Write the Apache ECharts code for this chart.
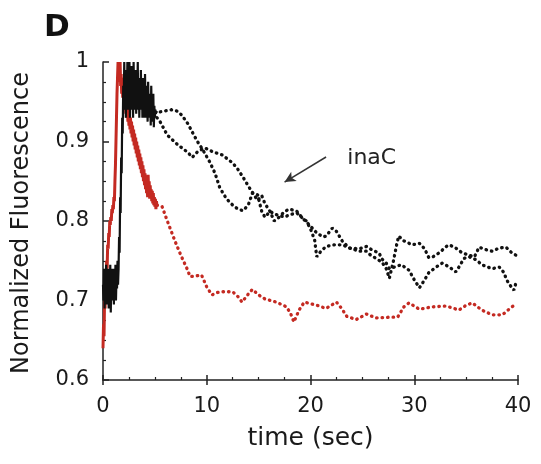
<!DOCTYPE html>
<html>
<head>
<meta charset="utf-8">
<script src="https://cdn.jsdelivr.net/npm/echarts@6/dist/echarts.min.js"></script>
<style>html,body{margin:0;padding:0;background:#fff}#c{width:541px;height:464px}</style>
</head>
<body>
<div id="c"></div>
<script>
// ---- data ----
var xTicks = [0, 10, 20, 30, 40];
var yTicks = [0.6, 0.7, 0.8, 0.9, 1];
// noisy early black trace (sampled every 0.05 s from t = 0)
var blackNoiseStep = 0.05;
var blackNoise = [
  0.72,0.70,0.74,0.69,0.735,0.705,0.745,0.695,0.73,0.71,0.74,0.69,0.725,0.70,0.745,0.685,0.73,0.71,0.74,0.70,0.735,0.695,0.74,0.705,0.745,0.70,0.73,0.715,0.75,0.72,
  0.74,0.78,0.76,0.83,0.81,0.88,0.86,0.93,0.91,0.97,
  0.95,1.0,0.94,0.99,0.93,0.98,0.95,1.0,0.94,0.99,0.96,1.0,0.93,0.985,0.95,0.995,0.94,0.98,0.93,1.0,0.95,0.99,0.94,0.975,0.935,0.99,0.95,1.0,0.94,0.98,0.93,0.97,0.94,0.99,0.95,0.975,0.93,0.98,0.94,0.965,0.93,0.985,0.945,0.97,0.93,0.96,0.925,0.975,0.935,0.96,0.93,0.955,0.92,0.97,0.935,0.95,0.925,0.96,0.918,0.945,0.93,0.94,0.935,0.938,0.936
];
// noisy early red trace (sampled every 0.05 s from t = 0)
var redNoiseStep = 0.05;
var redNoise = [
  0.64,0.67,0.655,0.70,0.69,0.73,0.72,0.75,0.74,0.77,0.765,0.785,0.78,0.80,0.795,
  0.805,0.80,0.815,0.81,0.82,0.815,0.83,0.825,0.85,0.87,
  0.90,0.93,0.96,0.98,1.0,0.99,
  0.995,0.975,1.0,0.97,0.985,0.96,0.98,0.955,0.975,0.95,0.965,0.94,0.96,0.935,0.955,0.93,0.945,0.925,0.94,0.92,
  0.935,0.915,0.93,0.91,0.925,0.905,0.92,0.90,0.915,0.895,0.91,0.89,0.905,0.885,0.90,0.88,0.895,0.875,0.89,0.87,
  0.885,0.865,0.88,0.86,0.875,0.855,0.87,0.85,0.865,0.845,0.86,0.84,0.855,0.835,0.85,0.83,0.858,0.835,0.85,0.828,0.845,0.83,0.84,0.825,0.838,0.822,0.835,0.82,0.83,0.818,0.828,0.815,0.825,0.82
];
var redDotted = [[5.2,0.82],[5.7,0.818],[6.2,0.80],[6.9,0.776],[7.5,0.757],[8.1,0.74],[8.4,0.73],[9.0,0.731],[9.5,0.732],[10.0,0.717],[10.5,0.707],[11.0,0.71],[11.5,0.711],[12.5,0.711],[13.0,0.705],[13.4,0.698],[14.0,0.708],[14.4,0.714],[15.0,0.707],[15.6,0.702],[16.7,0.698],[17.7,0.692],[18.1,0.683],[18.4,0.673],[18.9,0.688],[19.4,0.698],[20.6,0.694],[21.5,0.69],[22.5,0.698],[23.0,0.69],[23.5,0.68],[24.4,0.676],[25.4,0.683],[26.3,0.678],[27.6,0.679],[28.4,0.679],[29.0,0.692],[29.5,0.697],[30.5,0.689],[31.7,0.692],[33.1,0.693],[34.3,0.688],[35.0,0.694],[35.6,0.697],[36.5,0.688],[37.5,0.682],[38.5,0.682],[39.4,0.692],[39.7,0.694]];
var blackA = [[5.0,0.936],[5.8,0.938],[6.6,0.940],[7.2,0.938],[7.6,0.933],[8.2,0.922],[8.6,0.912],[9.1,0.900],[9.6,0.890],[10.3,0.874],[10.8,0.860],[11.25,0.842],[11.9,0.828],[12.5,0.820],[13.0,0.815],[13.5,0.813],[14.0,0.820],[14.4,0.835],[14.9,0.833],[15.3,0.812],[15.6,0.805],[16.1,0.812],[16.7,0.808],[17.5,0.805],[18.0,0.808],[18.7,0.810],[19.2,0.804],[19.6,0.800],[20.0,0.79],[20.4,0.776],[20.6,0.755],[21.0,0.762],[21.5,0.768],[22.3,0.770],[23.1,0.770],[23.75,0.766],[24.7,0.762],[25.4,0.762],[25.7,0.758],[26.3,0.753],[26.9,0.748],[27.3,0.740],[27.6,0.728],[28.0,0.750],[28.3,0.770],[28.5,0.781],[29.0,0.775],[29.5,0.772],[29.8,0.770],[30.5,0.772],[31.0,0.765],[31.4,0.754],[31.8,0.755],[32.4,0.760],[33.1,0.768],[33.4,0.770],[34.0,0.766],[34.6,0.760],[35.3,0.757],[35.8,0.755],[36.25,0.767],[36.9,0.764],[37.5,0.762],[38.2,0.766],[38.85,0.767],[39.4,0.760],[39.8,0.757]];
var blackB = [[5.2,0.93],[5.5,0.925],[6.2,0.908],[7.2,0.896],[8.2,0.886],[8.6,0.880],[9.1,0.887],[9.8,0.892],[10.6,0.887],[11.5,0.883],[12.5,0.873],[13.0,0.865],[13.5,0.855],[14.1,0.842],[14.6,0.832],[14.9,0.826],[15.3,0.832],[15.6,0.822],[16.1,0.812],[16.5,0.800],[17.0,0.805],[17.5,0.812],[18.0,0.815],[18.7,0.812],[19.2,0.804],[19.9,0.795],[20.6,0.785],[21.2,0.780],[21.5,0.781],[22.1,0.791],[22.5,0.787],[23.1,0.774],[23.75,0.766],[24.7,0.765],[25.4,0.768],[26.0,0.763],[26.6,0.760],[26.9,0.752],[27.3,0.747],[27.6,0.740],[28.3,0.743],[28.75,0.745],[29.5,0.738],[30.0,0.726],[30.5,0.716],[31.0,0.726],[31.4,0.735],[32.1,0.742],[32.7,0.747],[33.4,0.742],[34.0,0.736],[34.3,0.742],[34.8,0.753],[35.3,0.755],[36.0,0.751],[36.5,0.745],[37.5,0.740],[38.2,0.742],[38.65,0.735],[38.9,0.726],[39.4,0.716],[39.6,0.713],[39.8,0.722]];
var arrowFrom = [21.5, 0.8805], arrowTo = [17.5, 0.849];
var labelText = 'inaC', labelAt = [25.9, 0.879];

// ---- build ----
function sampled(vals, step) { return vals.map(function (v, i) { return [+(i * step).toFixed(3), v]; }); }
var FONT = 'DejaVu Sans';
var RED = '#c42a22', BLACK = '#111';
var dotted = { width: 3.3, type: [0.5, 5], cap: 'round' };

var chart = echarts.init(document.getElementById('c'), null, { renderer: 'canvas' });
chart.setOption({
  animation: false,
  backgroundColor: '#fff',
  grid: { left: 103, right: 23, top: 62, bottom: 84, containLabel: false },
  xAxis: [{
    type: 'value', min: xTicks[0], max: xTicks[xTicks.length - 1], interval: 10,
    axisLine: { show: true, lineStyle: { color: '#222', width: 1.5 } },
    axisTick: { show: true, inside: true, length: 5, lineStyle: { color: '#222', width: 1.5 } },
    minorTick: { show: true, splitNumber: 4, length: 3, lineStyle: { color: '#222', width: 1.2 } },
    splitLine: { show: false },
    axisLabel: { fontFamily: FONT, fontSize: 21, color: '#1a1a1a', margin: 16 },
    name: 'time (sec)', nameLocation: 'middle', nameGap: 46,
    nameTextStyle: { fontFamily: FONT, fontSize: 25, color: '#1a1a1a' }
  }, {
    type: 'value', min: xTicks[0], max: xTicks[xTicks.length - 1], interval: 10, position: 'bottom',
    axisLine: { show: false },
    axisTick: { show: true, inside: false, length: 5, lineStyle: { color: '#222', width: 1.5 } },
    axisLabel: { show: false }, splitLine: { show: false }
  }],
  yAxis: {
    type: 'value', min: yTicks[0], max: yTicks[yTicks.length - 1], interval: 0.1,
    axisLine: { show: true, lineStyle: { color: '#222', width: 1.5 } },
    axisTick: { show: true, inside: true, length: 6, lineStyle: { color: '#222', width: 1.5 } },
    minorTick: { show: true, splitNumber: 4, length: 3, lineStyle: { color: '#222', width: 1.2 } },
    splitLine: { show: false },
    axisLabel: { fontFamily: FONT, fontSize: 21, color: '#1a1a1a', margin: 14,
      formatter: function (v) { return String(+v.toFixed(1)); } }
  },
  graphic: [
    { type: 'text', left: 44, top: 12, style: { text: 'D', font: 'bold 31px "DejaVu Sans"', fill: '#111' } },
    { type: 'text', x: 22, y: 223, rotation: Math.PI / 2,
      style: { text: 'Normalized Fluorescence', font: '24px "DejaVu Sans"', fill: '#1a1a1a', textAlign: 'center', textVerticalAlign: 'middle' } }
  ],
  series: [
    { type: 'line', data: sampled(redNoise, redNoiseStep), showSymbol: false, lineStyle: { color: RED, width: 3 }, z: 3 },
    { type: 'line', data: redDotted, showSymbol: false, lineStyle: Object.assign({ color: RED }, dotted), z: 3 },
    { type: 'line', data: sampled(blackNoise, blackNoiseStep), showSymbol: false, lineStyle: { color: BLACK, width: 2.2 }, z: 4 },
    { type: 'line', data: blackA, showSymbol: false, lineStyle: Object.assign({ color: BLACK }, dotted), z: 4,
      markLine: { silent: true, symbol: ['none', 'arrow'], symbolSize: [8, 11], animation: false,
        lineStyle: { color: '#333', width: 1.5, type: 'solid' }, label: { show: false },
        data: [[{ coord: arrowFrom }, { coord: arrowTo }]] },
      markPoint: { silent: true, symbol: 'circle', symbolSize: 0, animation: false,
        label: { show: true, position: 'inside', formatter: labelText, fontFamily: FONT, fontSize: 22, color: '#222' },
        data: [{ coord: labelAt }] } },
    { type: 'line', data: blackB, showSymbol: false, lineStyle: Object.assign({ color: BLACK }, dotted), z: 4 }
  ]
});
</script>
</body>
</html>
